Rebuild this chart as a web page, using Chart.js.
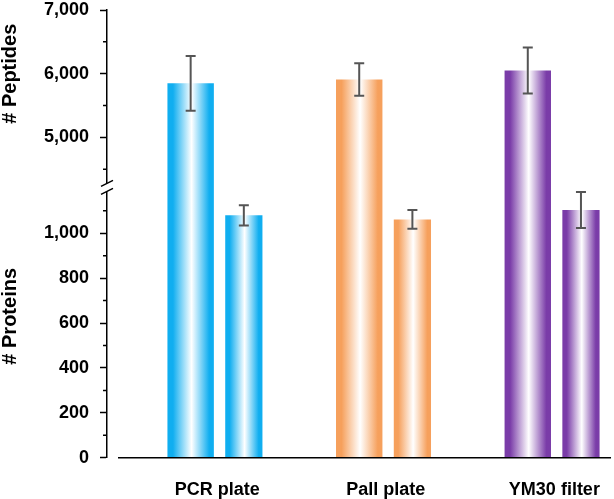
<!DOCTYPE html>
<html>
<head>
<meta charset="utf-8">
<script src="https://cdn.jsdelivr.net/npm/chart.js@4.4.0/dist/chart.umd.min.js"></script>
<style>
  html, body { margin: 0; padding: 0; background: #fff; }
  canvas { display: block; }
</style>
</head>
<body>
<canvas id="chart" width="614" height="499"></canvas>
<script>
// --- DATA ---
const categories = ['PCR plate', 'Pall plate', 'YM30 filter'];
const peptides = [5850, 5910, 6050];
const peptideErr = [430, 255, 360];
const proteins = [1080, 1062, 1104];
const proteinErr = [45, 42, 80];

// y axis: lower part (proteins) 0..1200, upper part (peptides) 4200..7000
const yTicks = [0, 200, 400, 600, 800, 1000, 5000, 6000, 7000];
const yMinorTicks = [100, 300, 500, 700, 900, 1100, 4500, 5500, 6500];
const breakLow = 1200;
const breakHigh = 4200;
const yMax = 7000;

// --- STYLE ---
const barColors = ['#10aef0', '#f6a05c', '#7a3ca8'];
const errColor = '#555555';
const fontFamily = '"Liberation Sans", Arial, sans-serif';

// axis with a break: two linear pieces glued at breakLow / breakHigh
class BrokenScale extends Chart.LinearScale {
    static id = 'broken';
    static defaults = Chart.LinearScale.defaults;

    determineDataLimits() {
        this.min = 0;
        this.max = yMax;
    }
    buildTicks() {
        return yTicks.map(v => ({ value: v }));
    }
    toDecimal(value) {
        const lowShare = this.options.lowShare;
        if (value <= breakLow) return value / breakLow * lowShare;
        if (value >= breakHigh) return lowShare + (value - breakHigh) / (yMax - breakHigh) * (1 - lowShare);
        return lowShare;
    }
    getPixelForValue(value) {
        return this.getPixelForDecimal(this.toDecimal(value));
    }
    getValueForPixel(pixel) {
        const d = this.getDecimalForPixel(pixel);
        const lowShare = this.options.lowShare;
        if (d <= lowShare) return d / lowShare * breakLow;
        return breakHigh + (d - lowShare) / (1 - lowShare) * (yMax - breakHigh);
    }
}
Chart.register(BrokenScale);

function barGradient(ctx, x, width, color) {
    const g = ctx.createLinearGradient(x - width / 2, 0, x + width / 2, 0);
    g.addColorStop(0, color);
    g.addColorStop(0.12, color);
    g.addColorStop(0.52, '#ffffff');
    g.addColorStop(0.9, color);
    g.addColorStop(1, color);
    return g;
}

// --- PLUGIN: gradient bars, error bars, break, titles ---
const decorPlugin = {
    id: 'decor',
    beforeDatasetDraw(chart, args) {
        const ctx = chart.ctx;
        args.meta.data.forEach((bar, i) => {
            const saved = bar.options.backgroundColor;
            bar.options.backgroundColor = barGradient(ctx, bar.x, bar.width, barColors[i]);
            bar.draw(ctx, chart.chartArea);
            bar.options.backgroundColor = saved;
        });
        return false;
    },
    afterDatasetsDraw(chart) {
        const ctx = chart.ctx;
        const yScale = chart.scales.y;
        ctx.save();
        ctx.strokeStyle = errColor;
        ctx.lineWidth = 2;
        chart.data.datasets.forEach((ds, di) => {
            chart.getDatasetMeta(di).data.forEach((bar, i) => {
                const v = ds.data[i].y;
                const e = ds.errors[i];
                const yTop = yScale.getPixelForValue(v + e);
                const yBot = yScale.getPixelForValue(v - e);
                ctx.beginPath();
                ctx.moveTo(bar.x, yTop); ctx.lineTo(bar.x, yBot);
                ctx.moveTo(bar.x - 5, yTop); ctx.lineTo(bar.x + 5, yTop);
                ctx.moveTo(bar.x - 5, yBot); ctx.lineTo(bar.x + 5, yBot);
                ctx.stroke();
            });
        });
        ctx.restore();
    },
    afterDraw(chart) {
        const ctx = chart.ctx;
        const yScale = chart.scales.y;
        const area = chart.chartArea;
        const ax = yScale.right;
        ctx.save();
        ctx.strokeStyle = '#000';
        ctx.lineWidth = 1.5;

        // baseline, detached from the y axis
        const y0 = yScale.getPixelForValue(0);
        ctx.beginPath();
        ctx.moveTo(area.left + 11, y0);
        ctx.lineTo(area.right, y0);
        ctx.stroke();

        // minor ticks
        ctx.beginPath();
        yMinorTicks.forEach(v => {
            const y = yScale.getPixelForValue(v);
            ctx.moveTo(ax - 4, y);
            ctx.lineTo(ax, y);
        });
        ctx.stroke();

        // break mark
        const by = yScale.getPixelForValue(breakLow) - 1;
        ctx.fillStyle = '#fff';
        ctx.beginPath();
        ctx.moveTo(ax - 6, by - 1);
        ctx.lineTo(ax + 6, by - 7);
        ctx.lineTo(ax + 6, by + 1);
        ctx.lineTo(ax - 6, by + 7);
        ctx.closePath();
        ctx.fill();
        ctx.beginPath();
        ctx.moveTo(ax - 6, by - 1); ctx.lineTo(ax + 6, by - 7);
        ctx.moveTo(ax - 6, by + 7); ctx.lineTo(ax + 6, by + 1);
        ctx.stroke();

        // axis titles
        ctx.fillStyle = '#000';
        ctx.font = 'bold 20px ' + fontFamily;
        ctx.textAlign = 'center';
        ctx.textBaseline = 'middle';
        [['# Peptides', 6000], ['# Proteins', 630]].forEach(([text, v]) => {
            ctx.save();
            ctx.translate(10, yScale.getPixelForValue(v));
            ctx.rotate(-Math.PI / 2);
            ctx.fillText(text, 0, 0);
            ctx.restore();
        });
        ctx.restore();
    }
};

// --- CHART ---
const ctx = document.getElementById('chart').getContext('2d');
new Chart(ctx, {
    type: 'bar',
    data: {
        datasets: [
            {
                label: '# Peptides',
                data: peptides.map((v, i) => ({ x: i, y: v })),
                errors: peptideErr,
                backgroundColor: barColors,
                categoryPercentage: 0.631,
                barPercentage: 0.873
            },
            {
                label: '# Proteins',
                data: proteins.map((v, i) => ({ x: i, y: v })),
                errors: proteinErr,
                backgroundColor: barColors,
                categoryPercentage: 0.631,
                barPercentage: 0.70
            }
        ]
    },
    options: {
        responsive: false,
        animation: false,
        layout: { padding: { top: 10, left: 0, right: 1, bottom: 0 } },
        plugins: { legend: { display: false }, tooltip: { enabled: false } },
        scales: {
            x: {
                type: 'linear',
                offset: false,
                min: -0.654,
                max: 2.336,
                grid: { display: false },
                border: { display: false },
                afterBuildTicks: scale => { scale.ticks = categories.map((c, i) => ({ value: i })); },
                afterFit: scale => { scale.height = 41.3; },
                ticks: {
                    autoSkip: false,
                    maxRotation: 0,
                    padding: 14,
                    color: '#000',
                    font: { family: fontFamily, size: 18, weight: 'bold' },
                    callback: v => categories[v]
                }
            },
            y: {
                type: 'broken',
                lowShare: 0.6015,
                grid: { drawOnChartArea: false, drawTicks: true, tickLength: 7, tickColor: '#000', tickWidth: 1.5 },
                border: { color: '#000', width: 1.5 },
                afterFit: scale => {
                    scale.width = 107;
                    scale.paddingTop = 0;
                    scale.paddingBottom = 0;
                },
                ticks: {
                    autoSkip: false,
                    padding: 11,
                    color: '#000',
                    font: { family: fontFamily, size: 18, weight: 'bold', lineHeight: 1.1 },
                    callback: v => v.toLocaleString('en-US')
                }
            }
        }
    },
    plugins: [decorPlugin]
});
</script>
</body>
</html>
